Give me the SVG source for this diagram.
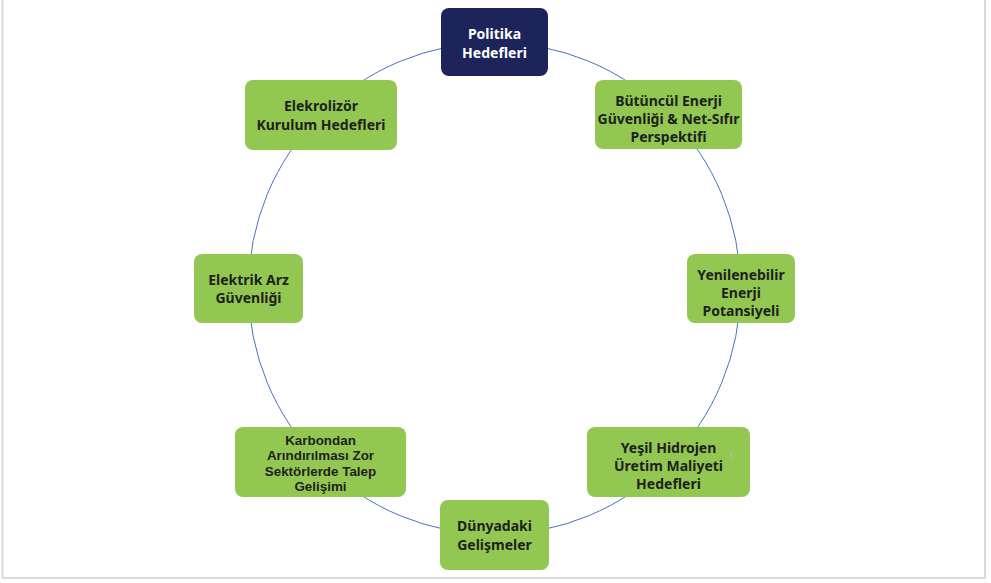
<svg xmlns="http://www.w3.org/2000/svg" width="991" height="583" viewBox="0 0 991 583">
<style>
.g{fill:#92C852}
.n{fill:#1C2459}
text{font-family:"Noto Sans","Open Sans",sans-serif;font-weight:700;font-size:14px;text-anchor:middle;fill:#1f1f1f}
.w{fill:#ffffff}
.k{font-family:"Liberation Sans",Arial,sans-serif;font-size:13.4px}
.c{fill:none;stroke:#4A72C0;stroke-width:1}
</style>
<rect x="0" y="0" width="991" height="583" fill="#ffffff"/>
<rect x="2.5" y="-5" width="982.5" height="583" fill="none" stroke="#d9d9d9" stroke-width="2"/>
<g id="connectors">
<circle class="c" cx="494.5" cy="288.5" r="246"/>
</g>
<g id="politika">
<rect class="n" x="441" y="8" width="107" height="68" rx="8"/>
<text class="w" x="494.5" y="39">Politika</text>
<text class="w" x="494.5" y="58">Hedefleri</text>
</g>
<g id="butuncul">
<rect class="g" x="595" y="80" width="147" height="69" rx="8"/>
<text x="668.5" y="106">Bütüncül Enerji</text>
<text x="668.5" y="124">Güvenliği &amp; Net-Sıfır</text>
<text x="668.5" y="142">Perspektifi</text>
</g>
<g id="yenilenebilir">
<rect class="g" x="687" y="254" width="108" height="69" rx="8"/>
<text x="741" y="280">Yenilenebilir</text>
<text x="741" y="298">Enerji</text>
<text x="741" y="316">Potansiyeli</text>
</g>
<g id="yesil">
<rect class="g" x="587" y="427" width="163" height="70" rx="8"/>
<text x="668.5" y="453">Yeşil Hidrojen</text>
<text x="668.5" y="471">Üretim Maliyeti</text>
<text x="668.5" y="489">Hedefleri</text>
</g>
<line x1="731" y1="452" x2="731" y2="458" stroke="#bbbbbb" stroke-width="1"/>
<g id="dunyadaki">
<rect class="g" x="440" y="500" width="109" height="70" rx="8"/>
<text x="494.5" y="531">Dünyadaki</text>
<text x="494.5" y="550">Gelişmeler</text>
</g>
<g id="karbondan">
<rect class="g" x="235" y="427" width="171" height="70" rx="8"/>
<text class="k" x="320.5" y="444.5">Karbondan</text>
<text class="k" x="320.5" y="460">Arındırılması Zor</text>
<text class="k" x="320.5" y="475.5">Sektörlerde Talep</text>
<text class="k" x="320.5" y="491">Gelişimi</text>
</g>
<g id="elektrik">
<rect class="g" x="194" y="254" width="109" height="69" rx="8"/>
<text x="248.5" y="285">Elektrik Arz</text>
<text x="248.5" y="303">Güvenliği</text>
</g>
<g id="elekrolizor">
<rect class="g" x="245" y="80" width="152" height="70" rx="8"/>
<text x="321" y="111">Elekrolizör</text>
<text x="321" y="130">Kurulum Hedefleri</text>
</g>
</svg>
